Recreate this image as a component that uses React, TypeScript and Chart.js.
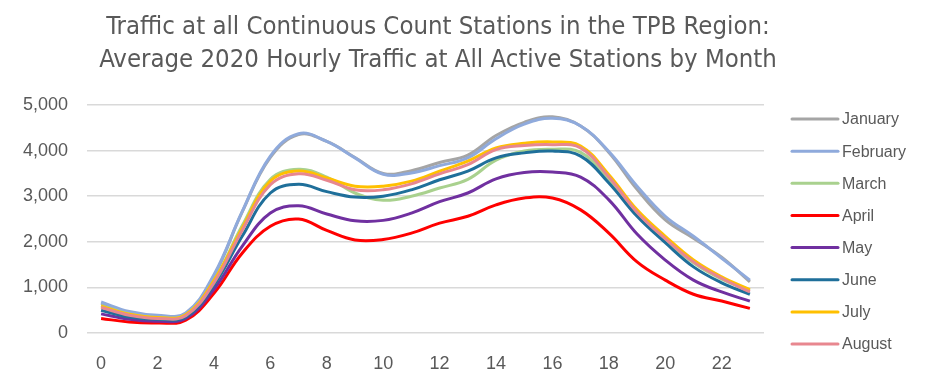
import React, { useEffect, useRef } from "react";
import { Chart, registerables } from "chart.js";

Chart.register(...registerables);

const hours: string[] = Array.from({ length: 24 }, (_, i) => String(i));

const january = [650, 450, 370, 420, 1250, 2650, 3850, 4350, 4200, 3850, 3500, 3560, 3740, 3900, 4330, 4620, 4740, 4540, 3960, 3150, 2480, 2080, 1660, 1120];
const february = [680, 470, 390, 440, 1280, 2660, 3880, 4370, 4200, 3840, 3480, 3510, 3670, 3840, 4260, 4580, 4710, 4540, 3980, 3220, 2560, 2120, 1640, 1160];
const march = [600, 420, 340, 400, 1150, 2350, 3370, 3590, 3420, 3070, 2910, 3000, 3180, 3370, 3790, 3990, 4030, 3960, 3370, 2620, 2050, 1540, 1180, 930];
const april = [320, 240, 220, 280, 870, 1750, 2340, 2500, 2250, 2040, 2050, 2190, 2410, 2560, 2810, 2960, 2960, 2700, 2190, 1560, 1160, 850, 700, 540];
const may = [420, 300, 260, 320, 960, 1900, 2630, 2790, 2610, 2460, 2470, 2630, 2880, 3070, 3380, 3520, 3530, 3420, 2920, 2170, 1600, 1160, 900, 700];
const june = [500, 350, 300, 350, 1050, 2120, 3070, 3260, 3100, 2980, 3000, 3140, 3360, 3550, 3840, 3950, 3990, 3880, 3290, 2560, 1980, 1450, 1100, 850];
const july = [590, 410, 340, 400, 1150, 2300, 3330, 3550, 3400, 3220, 3220, 3330, 3550, 3770, 4060, 4160, 4190, 4100, 3470, 2700, 2120, 1600, 1230, 950];
const august = [560, 390, 320, 380, 1100, 2250, 3250, 3490, 3350, 3140, 3140, 3270, 3490, 3690, 4020, 4110, 4130, 4060, 3420, 2650, 2070, 1560, 1200, 900];

const seriesNames = ["January", "February", "March", "April", "May", "June", "July", "August"];
const seriesValues = [january, february, march, april, may, june, july, august];
const seriesColors = ["#A5A5A5", "#8FAADC", "#A9D18E", "#FF0000", "#7030A0", "#1F6F9A", "#FFC000", "#E8878F"];

const titleLines = [
  "Traffic at all Continuous Count Stations in the TPB Region:",
  "Average 2020 Hourly Traffic at All Active Stations by Month",
];

const TEXT_COLOR = "#595959";
const GRID_COLOR = "#D9D9D9";

const titlePlugin = {
  id: "customTitle",
  afterDraw(chart: any) {
    const ctx = chart.ctx;
    ctx.save();
    ctx.fillStyle = TEXT_COLOR;
    ctx.font = "25.5px 'Liberation Sans Narrow', 'DejaVu Sans Condensed', sans-serif";
    ctx.textAlign = "center";
    ctx.textBaseline = "alphabetic";
    const cx = chart.chartArea.left + 351;
    ctx.fillText(titleLines[0], cx, 26);
    ctx.fillText(titleLines[1], cx, 59);
    ctx.restore();
  },
};

const legendPlugin = {
  id: "customLegend",
  afterDraw(chart: any) {
    const ctx = chart.ctx;
    const x0 = chart.chartArea.right + 28;
    const y0 = chart.chartArea.top + 14;
    ctx.save();
    ctx.font = "16px 'Liberation Sans', Arial, sans-serif";
    ctx.textBaseline = "middle";
    ctx.textAlign = "left";
    chart.data.datasets.forEach((ds: any, i: number) => {
      const y = y0 + i * 32.15;
      ctx.strokeStyle = ds.borderColor;
      ctx.lineWidth = 3;
      ctx.lineCap = "round";
      ctx.beginPath();
      ctx.moveTo(x0, y);
      ctx.lineTo(x0 + 46, y);
      ctx.stroke();
      ctx.fillStyle = TEXT_COLOR;
      ctx.fillText(ds.label, x0 + 50, y + 1);
    });
    ctx.restore();
  },
};

export default function App() {
  const canvasRef = useRef<HTMLCanvasElement | null>(null);

  useEffect(() => {
    if (!canvasRef.current) return;
    const n = seriesNames.length;
    const chart = new Chart(canvasRef.current, {
      type: "line",
      data: {
        labels: hours,
        datasets: seriesNames.map((name, i) => ({
          label: name,
          data: seriesValues[i],
          borderColor: seriesColors[i],
          backgroundColor: seriesColors[i],
          borderWidth: 3,
          pointRadius: 0,
          tension: 0.4,
          fill: false,
          order: n - 1 - i,
        })),
      },
      options: {
        animation: false,
        responsive: true,
        maintainAspectRatio: false,
        layout: { padding: { top: 97, left: 0, right: 153, bottom: 0 } },
        plugins: {
          legend: { display: false },
          title: { display: false },
          tooltip: { enabled: false },
        },
        scales: {
          x: {
            type: "category",
            offset: true,
            grid: { display: false, drawTicks: false },
            border: { display: false },
            ticks: {
              autoSkip: false,
              maxRotation: 0,
              padding: 20,
              color: TEXT_COLOR,
              font: { family: "'Liberation Sans', Arial, sans-serif", size: 18 },
              callback: (_v: any, idx: number) => (idx % 2 === 0 ? hours[idx] : ""),
            },
            afterFit: (scale: any) => {
              scale.height = 48;
            },
          },
          y: {
            min: 0,
            max: 5000,
            grid: { color: GRID_COLOR, lineWidth: 1.5, drawTicks: false },
            border: { display: false },
            ticks: {
              stepSize: 1000,
              padding: 19,
              color: TEXT_COLOR,
              font: { family: "'Liberation Sans', Arial, sans-serif", size: 18 },
              callback: (v: any) => Number(v).toLocaleString("en-US"),
            },
            afterFit: (scale: any) => {
              scale.width = 79;
            },
          },
        },
      },
      plugins: [titlePlugin, legendPlugin],
    });
    return () => chart.destroy();
  }, []);

  return (
    <div style={{ position: "relative", width: "100%", height: 373 }}>
      <canvas ref={canvasRef} />
    </div>
  );
}
